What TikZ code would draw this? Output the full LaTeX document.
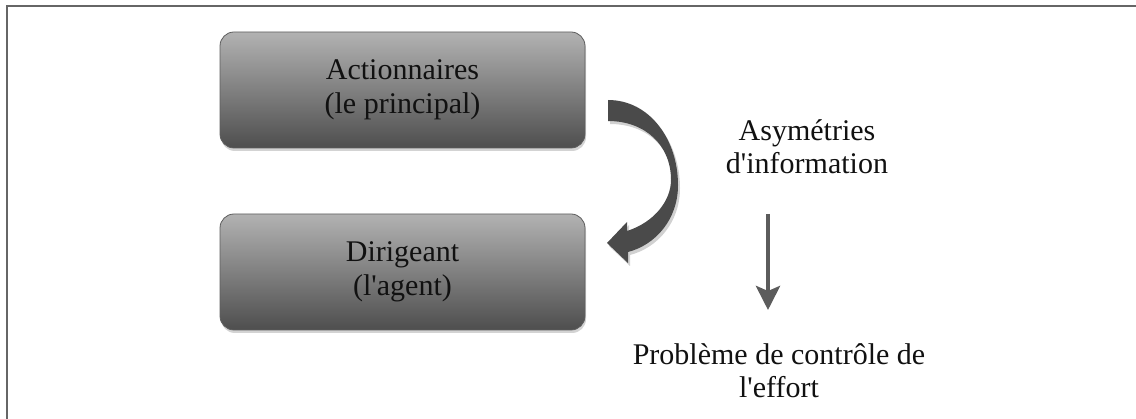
\documentclass[tikz,border=0pt]{standalone}
\usepackage{fontspec}
\setmainfont{Liberation Serif}
\usetikzlibrary{shadows,arrows.meta}
\definecolor{boxtop}{HTML}{B2B2B2}
\definecolor{boxbot}{HTML}{4E4E4E}
\definecolor{boxline}{HTML}{5E5E5E}
\definecolor{arrowgray}{HTML}{4A4A4A}
\definecolor{framegray}{HTML}{666666}
\definecolor{txt}{HTML}{111111}
\tikzset{
  rbox/.style={draw=boxline, line width=0.8pt, rounded corners=14pt,
    top color=boxtop, bottom color=boxbot,
    minimum width=365pt, minimum height=116pt, inner sep=0pt,
    align=center, text=txt, font=\fontsize{30}{34}\selectfont,
    drop shadow={shadow xshift=1pt, shadow yshift=-3pt, opacity=0.35}},
  lbl/.style={align=center, text=txt, font=\fontsize{30}{33}\selectfont, inner sep=0pt},
  downarrow/.style={draw=arrowgray!90, line width=4.5pt,
    -{Stealth[width=24pt,length=24pt,inset=5pt]}},
}
\begin{document}
\begin{tikzpicture}[x=1pt,y=-1pt]
\useasboundingbox (0,0) rectangle (1136,419);
% frame
\draw[framegray, line width=2pt] (6.5,419) -- (6.5,6.5) -- (1136,6.5);
% boxes
\node[rbox] (prin) at (402.5,90) {Actionnaires\\(le principal)};
\node[rbox] (agent) at (402.5,272) {Dirigeant\\(l\textquotesingle agent)};
% curved arrow (shadow then body)
\begin{scope}[shift={(2,3)}]
\fill[black, opacity=0.18] (608,100) .. controls (650,100) and (678,140) .. (678,185)
  .. controls (678,220) and (655,245) .. (628,252) -- (628,263) -- (607,243) -- (627,222) -- (627,231)
  .. controls (655,222) and (671,200) .. (671,180) .. controls (671,145) and (645,121) .. (608,121) -- cycle;
\end{scope}
\fill[arrowgray] (608,100) .. controls (650,100) and (678,140) .. (678,185)
  .. controls (678,220) and (655,245) .. (628,252) -- (628,263) -- (607,243) -- (627,222) -- (627,231)
  .. controls (655,222) and (671,200) .. (671,180) .. controls (671,145) and (645,121) .. (608,121) -- cycle;
% right side
\node[lbl] (asym) at (807,147) {Asymétries\\d\textquotesingle information};
\node[lbl] (prob) at (779,371) {Problème de contrôle de\\l\textquotesingle effort};
\coordinate (a1) at (768,214);
\coordinate (a2) at (768,310);
\draw[downarrow] (a1) -- (a2);
\end{tikzpicture}
\end{document}
